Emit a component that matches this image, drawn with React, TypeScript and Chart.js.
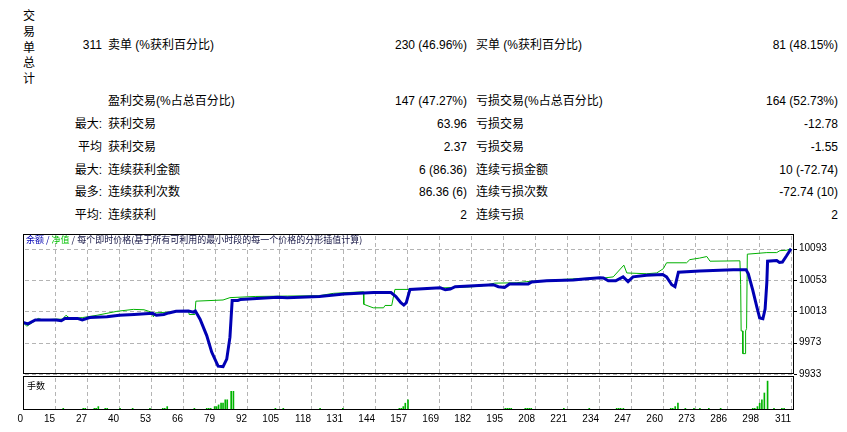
import React, { useEffect, useRef } from 'react';
import { Chart, registerables } from 'chart.js';

Chart.register(...registerables);

// ---------- data ----------
const xTickLabels = ['0', '15', '27', '40', '53', '66', '79', '92', '105', '118', '131', '144', '157', '169', '182', '195', '208', '221', '234', '247', '260', '273', '286', '298', '311'];
const yTickValues = [9933, 9973, 10013, 10053, 10093];

const balanceX = [0, 2, 5, 13.5, 15.5, 17, 22, 24, 27, 34, 39, 45, 52.5, 54, 57, 59, 62, 67, 69, 69.8, 71.7, 74.4, 76.4, 79, 81, 82.5, 83.8, 84.7, 87, 88, 93, 103, 107, 120, 130, 142, 149, 151, 153, 154.2, 155.2, 156.7, 169, 171, 173, 175, 190.4, 192.5, 195, 197, 204.6, 206, 212, 222.8, 226, 233.6, 235, 237, 240, 243, 245, 247, 252.5, 259, 260.6, 262.7, 264, 265.4, 274, 287.6, 292.8, 293.7, 295.5, 297.2, 298.3, 299.6, 300.5, 301.2, 301.5, 305.2, 306.3, 307.5, 309.2, 311];
const balanceY = [9999, 9997, 10002, 10002, 10001, 10004, 10004, 10002, 10005, 10006, 10008, 10009, 10010.5, 10008, 10009, 10011, 10013, 10013.5, 10012, 10013.5, 10003, 9982, 9961, 9943, 9942.5, 9952, 9980, 10027, 10027, 10028, 10029, 10031, 10030.5, 10032, 10035, 10037, 10037, 10032, 10024, 10021, 10024, 10041, 10043, 10040.5, 10041.5, 10044.5, 10047, 10044.5, 10043.5, 10048, 10048, 10050.5, 10052, 10053, 10054, 10056, 10055.5, 10052, 10052, 10057, 10051, 10057, 10059, 10060, 10057, 10047, 10044.5, 10063, 10064.5, 10066, 10066, 10061, 10040, 10018, 10004.5, 10003.5, 10016, 10050, 10077, 10078, 10075.5, 10076, 10084, 10093];

const equityX = [0, 1.5, 3, 6.2, 8, 13, 16, 17.4, 19, 24, 26, 30, 34, 38, 44.7, 49, 52, 52.8, 53.5, 59, 62, 67, 67.3, 69.6, 70, 81, 83.8, 94, 107, 120, 125.7, 137.8, 138, 141.8, 146, 146.6, 149.3, 150.6, 157, 170, 179.7, 185, 191, 200, 204, 220, 233.6, 235, 239, 243.3, 244.5, 252.5, 256.6, 259.3, 260.6, 268.7, 270, 274, 276.9, 278.2, 290.3, 290.6, 290.8, 291.4, 291.5, 292.4, 292.6, 293, 293.3, 301.2, 305.2, 306.5, 309.2, 311];
const equityY = [9999, 9994, 9997, 10004, 10002, 10003, 10003, 10008, 10004, 10005, 10006, 10008, 10010.5, 10013, 10015.5, 10015, 10012, 10006, 10011, 10012, 10013, 10014, 10009, 10009, 10026, 10027.5, 10030.5, 10032, 10032.5, 10033, 10036, 10038, 10022, 10017.5, 10017.5, 10020.5, 10020.5, 10041, 10041, 10043, 10044, 10045, 10049, 10049.5, 10051, 10054, 10056, 10055.5, 10057, 10072, 10062, 10061, 10062, 10067.5, 10075, 10075, 10079, 10081, 10083, 10077, 10077.5, 10047, 9988, 9988, 9959, 9959, 9988, 9991, 10086, 10088, 10088, 10090.5, 10091, 10093];

const volumeX = [16.3, 24.4, 25.2, 28.9, 29.6, 30.5, 33.3, 34.1, 39.3, 44.4, 51.4, 56.6, 57.4, 58.4, 69.4, 74.4, 75.2, 76, 77.6, 78.4, 79.2, 80.2, 81, 81.9, 82.7, 84.3, 85.2, 102.2, 105.4, 120.3, 129.5, 152.4, 153.2, 154, 154.8, 155.9, 195.3, 196.1, 196.9, 197.7, 203.4, 204.2, 205, 205.8, 219, 229.3, 240.4, 241.2, 242, 243.1, 262.3, 263.1, 264.1, 265.2, 268.2, 271.7, 274.1, 277.7, 282.5, 295.5, 296.3, 297.4, 298.3, 299.2, 300.2, 301.5, 304.1, 307.3, 308.2];
const volumeLots = [0.01, 0.01, 0.01, 0.01, 0.01, 0.02, 0.01, 0.01, 0.01, 0.01, 0.01, 0.01, 0.01, 0.02, 0.01, 0.01, 0.01, 0.01, 0.02, 0.02, 0.03, 0.04, 0.04, 0.06, 0.06, 0.11, 0.11, 0.01, 0.01, 0.01, 0.01, 0.01, 0.01, 0.02, 0.04, 0.06, 0.01, 0.01, 0.01, 0.01, 0.01, 0.01, 0.01, 0.01, 0.01, 0.01, 0.01, 0.01, 0.01, 0.01, 0.01, 0.01, 0.02, 0.04, 0.01, 0.01, 0.01, 0.01, 0.01, 0.01, 0.01, 0.02, 0.04, 0.06, 0.1, 0.17, 0.01, 0.01, 0.01];

const summaryPrefix = ['311', '', '最大:', '平均', '最大:', '最多:', '平均:'];
const summaryLabel1 = ['卖单 (%获利百分比)', '盈利交易(%占总百分比)', '获利交易', '获利交易', '连续获利金额', '连续获利次数', '连续获利'];
const summaryValue1 = ['230 (46.96%)', '147 (47.27%)', '63.96', '2.37', '6 (86.36)', '86.36 (6)', '2'];
const summaryLabel2 = ['买单 (%获利百分比)', '亏损交易(%占总百分比)', '亏损交易', '亏损交易', '连续亏损金额', '连续亏损次数', '连续亏损'];
const summaryValue2 = ['81 (48.15%)', '164 (52.73%)', '-12.78', '-1.55', '10 (-72.74)', '-72.74 (10)', '2'];
const rowY = [45, 101, 124, 147, 170, 192, 215];
const sideTitle = '交易单总计';

// ---------- styling ----------
const X_MAX = 312.2;
const X_STEP = 311 / 24;
const BLUE = '#0000b4';
const GREEN = '#00b000';
const GRID = '#b4b4b4';
const TEXT_FONT = '"Liberation Sans", "Noto Sans CJK SC", sans-serif';
const CJK_FONT = '"Noto Sans CJK SC", "Liberation Sans", sans-serif';

// dashed segments drawn as separate small rectangles (no setLineDash)
const dashV = (ctx: any, x: number, y0: number, y1: number) => {
  for (let y = y0; y < y1; y += 7) ctx.fillRect(x, y, 1, Math.min(4, y1 - y));
};
const dashH = (ctx: any, y: number, x0: number, x1: number) => {
  for (let x = x0; x < x1; x += 7) ctx.fillRect(x, y, Math.min(4, x1 - x), 1);
};

const makeGridPlugin = (withY: boolean, tickBelow: number) => ({
  id: 'dashGrid',
  beforeDraw(chart: any) {
    const { ctx, chartArea: a, scales } = chart;
    ctx.save();
    ctx.fillStyle = GRID;
    xTickLabels.forEach((_, k) => {
      const px = Math.round(scales.x.getPixelForValue(k * X_STEP));
      dashV(ctx, px, Math.round(a.top) + 2, Math.round(a.bottom) + tickBelow);
    });
    if (withY) {
      yTickValues.forEach((v) => {
        const py = Math.round(scales.y.getPixelForValue(v));
        dashH(ctx, py, Math.round(a.left) + 2, Math.round(a.right));
      });
    }
    ctx.restore();
  },
  afterDraw(chart: any) {
    const { ctx, chartArea: a, scales } = chart;
    ctx.save();
    ctx.fillStyle = '#000';
    const l = Math.round(a.left), r = Math.round(a.right), t = Math.round(a.top), b = Math.round(a.bottom);
    ctx.fillRect(l, t, r - l, 1);
    ctx.fillRect(l, b - 1, r - l, 1);
    ctx.fillRect(l, t, 1, b - t);
    ctx.fillRect(r - 1, t, 1, b - t);
    if (withY) {
      yTickValues.forEach((v) => {
        const py = Math.round(scales.y.getPixelForValue(v));
        ctx.fillRect(r, py, 3, 1);
      });
    }
    ctx.restore();
  },
});

const xGridTicks = (scale: any) => {
  scale.ticks = xTickLabels.map((_, k) => ({ value: k * X_STEP }));
};

function MainChart() {
  const ref = useRef<HTMLCanvasElement>(null);
  useEffect(() => {
    const chart = new Chart(ref.current!, {
      type: 'line',
      data: {
        datasets: [
          {
            label: '余额',
            data: balanceX.map((x, i) => ({ x, y: balanceY[i] })),
            borderColor: BLUE,
            borderWidth: 3,
            pointRadius: 0,
            tension: 0,
          },
          {
            label: '净值',
            data: equityX.map((x, i) => ({ x, y: equityY[i] })),
            borderColor: GREEN,
            borderWidth: 1,
            pointRadius: 0,
            tension: 0,
          },
        ],
      },
      options: {
        animation: false,
        responsive: false,
        maintainAspectRatio: false,
        events: [],
        layout: { padding: { left: 23, top: 5, right: 0, bottom: 8 } },
        plugins: { legend: { display: false }, tooltip: { enabled: false } },
        scales: {
          x: {
            type: 'linear',
            min: 0,
            max: X_MAX,
            afterBuildTicks: xGridTicks,
            afterFit: (s: any) => { s.height = 0; },
            ticks: { display: false },
            grid: { display: false, drawTicks: false },
            border: { display: false },
          },
          y: {
            position: 'right',
            min: 9933,
            max: 10111.75,
            afterBuildTicks: (s: any) => { s.ticks = yTickValues.map((v) => ({ value: v })); },
            afterFit: (s: any) => { s.width = 53; },
            ticks: {
              color: '#000',
              padding: 2,
              font: { family: TEXT_FONT, size: 10 },
              callback: (v: any) => String(v),
            },
            grid: { display: false, drawTicks: true, tickLength: 3 },
            border: { display: false },
          },
        },
      } as any,
      plugins: [makeGridPlugin(true, 0)],
    });
    return () => chart.destroy();
  }, []);
  return <canvas ref={ref} width={847} height={156} style={{ position: 'absolute', left: 0, top: 226, width: 847, height: 156 }} />;
}

function VolumeChart() {
  const ref = useRef<HTMLCanvasElement>(null);
  useEffect(() => {
    const chart = new Chart(ref.current!, {
      type: 'bar',
      data: {
        datasets: [
          {
            label: '手数',
            data: volumeX.map((x, i) => ({ x, y: volumeLots[i] })),
            backgroundColor: '#00b400',
            barThickness: 1,
          },
        ],
      },
      options: {
        animation: false,
        responsive: false,
        maintainAspectRatio: false,
        events: [],
        layout: { padding: { left: 23, top: 2, right: 0, bottom: 0 } },
        plugins: { legend: { display: false }, tooltip: { enabled: false } },
        scales: {
          x: {
            type: 'linear',
            min: 0,
            max: X_MAX,
            offset: false,
            afterBuildTicks: xGridTicks,
            afterFit: (s: any) => { s.height = 22; },
            ticks: {
              autoSkip: false,
              maxRotation: 0,
              align: 'end',
              padding: 1,
              color: '#000',
              font: { family: TEXT_FONT, size: 10 },
              callback: (_v: any, index: number) => xTickLabels[index],
            },
            grid: { display: false, offset: false, drawTicks: true, tickLength: 2 },
            border: { display: false },
          },
          y: {
            position: 'right',
            min: 0,
            max: 0.2,
            afterFit: (s: any) => { s.width = 53; },
            ticks: { display: false },
            grid: { display: false },
            border: { display: false },
          },
        },
      } as any,
      plugins: [makeGridPlugin(false, 2)],
    });
    return () => chart.destroy();
  }, []);
  return <canvas ref={ref} width={847} height={58} style={{ position: 'absolute', left: 0, top: 374, width: 847, height: 58 }} />;
}

const txt = (x: number, y: number, s: string, align: 'left' | 'right', extra: React.CSSProperties = {}) => (
  <span
    key={`${x}-${y}-${s}`}
    style={{
      position: 'absolute',
      top: y - 8,
      ...(align === 'left' ? { left: x } : { right: 847 - x }),
      lineHeight: '16px',
      fontSize: 12,
      whiteSpace: 'nowrap',
      fontFamily: TEXT_FONT,
      color: '#000',
      ...extra,
    }}
  >
    {s}
  </span>
);

export default function App() {
  return (
    <div style={{ position: 'absolute', left: 0, top: 0, width: 847, height: 432, background: '#fff', overflow: 'hidden' }}>
      {sideTitle.split('').map((ch, k) => txt(23, 15 + k * 15.75, ch, 'left', { fontFamily: CJK_FONT }))}
      {rowY.map((y, i) => (
        <React.Fragment key={i}>
          {summaryPrefix[i] ? txt(102, y, summaryPrefix[i], 'right') : null}
          {txt(108, y, summaryLabel1[i], 'left')}
          {txt(467, y, summaryValue1[i], 'right')}
          {txt(476, y, summaryLabel2[i], 'left')}
          {txt(838, y, summaryValue2[i], 'right')}
        </React.Fragment>
      ))}
      <MainChart />
      <VolumeChart />
      <div style={{ position: 'absolute', left: 26, top: 233, fontSize: 9, lineHeight: '13px', whiteSpace: 'nowrap', fontFamily: CJK_FONT, color: '#101040' }}>
        <span style={{ color: BLUE }}>余额</span>
        <span style={{ color: '#0000a0' }}> / </span>
        <span style={{ color: '#00c000' }}>净值</span>
        <span> / 每个即时价格(基于所有可利用的最小时段的每一个价格的分形插值计算)</span>
      </div>
      <div style={{ position: 'absolute', left: 27, top: 379, fontSize: 9, lineHeight: '13px', whiteSpace: 'nowrap', fontFamily: CJK_FONT, color: '#000' }}>手数</div>
    </div>
  );
}
